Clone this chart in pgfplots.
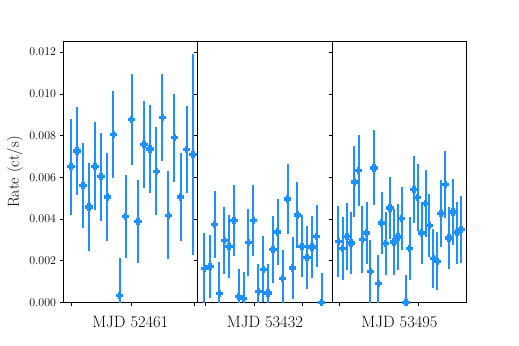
\documentclass[border=0pt]{standalone}
\usepackage{pgfplots}
\usepackage{pgfplotstable}
\pgfplotsset{compat=1.18}
\definecolor{dblue}{RGB}{30,144,255}

\pgfplotstableread{
x y e
71 0.0065 0.0023
77 0.00726 0.0021
83 0.00562 0.00204
89 0.00458 0.0021
95 0.00653 0.0021
101 0.00602 0.0021
107.3 0.00506 0.0021
113.3 0.00805 0.0021
119.7 0.00034 0.0018
125.7 0.00413 0.0020
131.7 0.00877 0.0022
138 0.00389 0.0020
144 0.00758 0.0021
150 0.00736 0.0021
156.3 0.00629 0.0021
162.3 0.00886 0.0021
168.3 0.00418 0.0021
174.3 0.00789 0.0021
180.7 0.00506 0.0021
186.7 0.00733 0.0021
193 0.0071 0.0048
}\tA

\pgfplotstableread{
x y e
204.3 0.00162 0.0017
210 0.00173 0.0015
214.7 0.00374 0.0016
219.3 0.00042 0.0015
224.3 0.00298 0.0016
229 0.00269 0.0015
234 0.00394 0.0017
238.7 0.00029 0.0013
243.7 0.00018 0.0013
248.3 0.00286 0.0016
253.3 0.00394 0.0017
258.3 0.00054 0.0013
263.3 0.0016 0.0016
268 0.00046 0.0014
273 0.00253 0.0016
277.7 0.00338 0.0016
282.7 0.00114 0.0014
287.7 0.00496 0.0017
292.7 0.00165 0.0015
297.3 0.00419 0.0016
302 0.0027 0.0015
307 0.00216 0.0015
312 0.00266 0.0015
316.7 0.00318 0.0015
321.7 0.0 0.0014
}\tB

\pgfplotstableread{
x y e
338.3 0.00293 0.0017
342.7 0.00258 0.0015
347 0.00318 0.0016
351 0.00285 0.0015
354.3 0.00578 0.0017
358.7 0.00634 0.0017
362.3 0.00302 0.0016
366.7 0.00333 0.0015
370.3 0.00149 0.0015
374 0.00645 0.0018
378.3 0.0009 0.0014
381.7 0.00381 0.0015
385.7 0.00282 0.0015
390 0.00453 0.0015
394 0.0029 0.0016
398 0.00314 0.0016
401.7 0.00402 0.0015
406 0.0 0.0013
409.7 0.00258 0.0015
414 0.00541 0.0016
417.7 0.00502 0.0016
421.7 0.00333 0.0015
425.7 0.00474 0.0016
429.3 0.0037 0.0015
433.3 0.0021 0.0014
437.3 0.00198 0.0014
441 0.00426 0.0016
445.3 0.00565 0.0016
449 0.00309 0.0015
453 0.00434 0.0016
457 0.00334 0.0015
461 0.00349 0.0016
}\tC

\pgfplotsset{
  panel/.style={
    scale only axis, width=134.57bp, height=260.8bp, anchor=south west,
    ymin=0, ymax=0.0125,
    ytick={0,0.002,0.004,0.006,0.008,0.010,0.012},
    scaled y ticks=false,
    yticklabel style={/pgf/number format/.cd, fixed, fixed zerofill, precision=3},
    tick align=outside, xtick pos=bottom, ytick pos=left,
    major tick length=3.5bp,
    tick style={black, line width=0.6bp},
    axis line style={black, line width=0.8bp},
    xticklabels={},
    tick label style={font=\fontsize{12}{14}\selectfont},
    xlabel style={font=\fontsize{16.5}{19}\selectfont, inner sep=0pt, anchor=north, at={(axis description cs:0.5,0)}, yshift=-13.5bp},
    ylabel style={font=\fontsize{16}{19}\selectfont, inner sep=0pt, anchor=south, at={(axis description cs:0,0.5)}},
  },
  pts/.style={only marks, color=dblue, mark=+, mark size=3.6bp,
    mark options={line width=3.2bp, solid},
    error bars/.cd, y dir=both, y explicit,
    error bar style={line width=1.9bp, color=dblue}, error mark=none},
}

\begin{document}
\begin{tikzpicture}
\path[use as bounding box] (0,0) rectangle (519bp,346bp);
\begin{axis}[panel, at={(63bp,43.5bp)}, xmin=63, xmax=197.57,
  xtick={71,131.5,194}, xlabel={MJD 52461}, ylabel={Rate (ct/s)},
  ylabel style={yshift=40bp}]
\addplot[pts] table[x=x, y=y, y error=e] {\tA};
\end{axis}
\begin{axis}[panel, at={(197.57bp,43.5bp)}, xmin=197.57, xmax=332.14,
  xtick={205,254,302}, yticklabels={}, xlabel={MJD 53432}]
\addplot[pts] table[x=x, y=y, y error=e] {\tB};
\end{axis}
\begin{axis}[panel, at={(332.14bp,43.5bp)}, xmin=332.14, xmax=466.7,
  xtick={339,418}, yticklabels={}, xlabel={MJD 53495}]
\addplot[pts] table[x=x, y=y, y error=e] {\tC};
\end{axis}
\end{tikzpicture}
\end{document}
